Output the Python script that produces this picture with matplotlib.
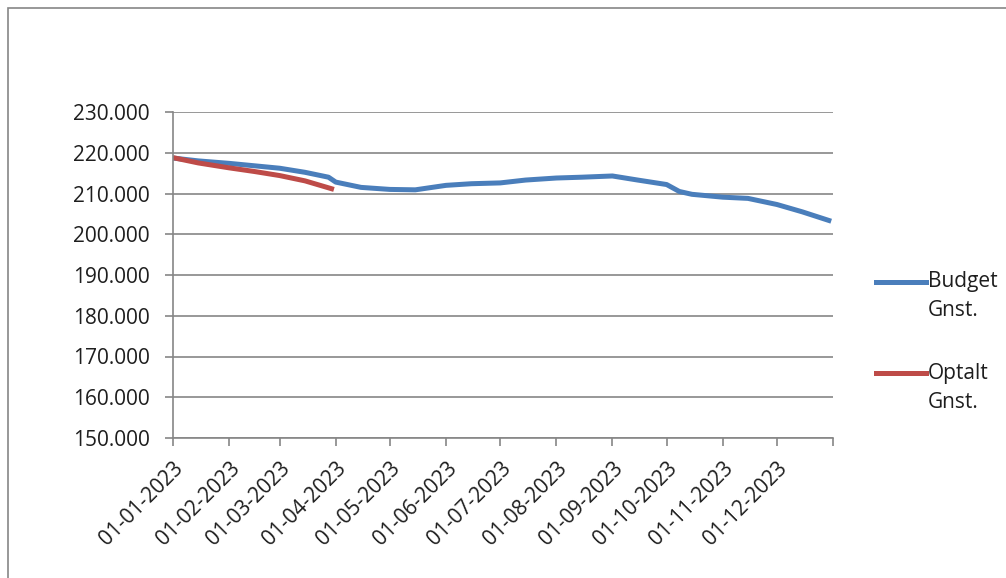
import matplotlib
matplotlib.use("Agg")
import matplotlib.pyplot as plt
from matplotlib.patches import Rectangle
from matplotlib.lines import Line2D
import numpy as np

plt.rcParams['font.family'] = ['Open Sans', 'DejaVu Sans']

# Budget Gnst. (thousands)
budget_dates = ['2023-01-01', '2023-01-15', '2023-02-01', '2023-02-15', '2023-03-01',
                '2023-03-15', '2023-03-28', '2023-04-01', '2023-04-15', '2023-05-01',
                '2023-05-15', '2023-06-01', '2023-06-15', '2023-07-01', '2023-07-15',
                '2023-08-01', '2023-08-15', '2023-09-01', '2023-09-15', '2023-10-01',
                '2023-10-08', '2023-10-15', '2023-11-01', '2023-11-15', '2023-12-01',
                '2023-12-15', '2023-12-31']
budget_values = [218.7, 218.0, 217.4, 216.8, 216.2,
                 215.2, 214.0, 212.8, 211.5, 211.0,
                 210.9, 212.0, 212.4, 212.6, 213.3,
                 213.8, 214.0, 214.3, 213.3, 212.2,
                 210.5, 209.8, 209.1, 208.8, 207.3,
                 205.5, 203.2]

# Optalt Gnst.
optalt_dates = ['2023-01-01', '2023-01-15', '2023-02-01', '2023-02-15',
                '2023-03-01', '2023-03-15', '2023-03-31']
optalt_values = [218.8, 217.5, 216.3, 215.4, 214.4, 213.1, 211.0]

y_ticks = [150, 160, 170, 180, 190, 200, 210, 220, 230]
month_ticks = ['2023-%02d-01' % m for m in range(1, 13)]

series_names = [('Budget', 'Gnst.'), ('Optalt', 'Gnst.')]
series_colors = ['#4a7ebb', '#be4b48']

W, H = 1006, 578
fig = plt.figure(figsize=(W / 100, H / 100), dpi=100)
ax = fig.add_axes([173 / W, 1 - 438 / H, 660 / W, 326 / H])

ax.plot(np.array(budget_dates, dtype='datetime64[D]'), budget_values,
        color=series_colors[0], lw=3.6, solid_capstyle='butt')
ax.plot(np.array(optalt_dates, dtype='datetime64[D]'), optalt_values,
        color=series_colors[1], lw=3.6, solid_capstyle='butt')

ax.set_ylim(150, 230)
ax.set_yticks(y_ticks)
ax.set_yticklabels(['%d.000' % v for v in y_ticks])
ax.set_xlim(np.datetime64('2023-01-01'), np.datetime64('2024-01-01'))
xt = list(np.array(month_ticks, dtype='datetime64[D]')) + [np.datetime64('2024-01-01')]
ax.set_xticks(xt)
ax.set_xticklabels([d[8:10] + '-' + d[5:7] + '-' + d[0:4] for d in month_ticks] + [''],
                   rotation=45, ha='right', rotation_mode='anchor')

ax.grid(axis='y', color='#868686', lw=1.2)
ax.set_axisbelow(True)
for s in ['top', 'right']:
    ax.spines[s].set_visible(False)
for s in ['left', 'bottom']:
    ax.spines[s].set_color('#868686')
    ax.spines[s].set_linewidth(1.2)
ax.tick_params(axis='both', color='#868686', width=1.2, length=5.5, labelsize=15,
               labelcolor='#1e1e1e')
ax.tick_params(axis='y', pad=11)
ax.tick_params(axis='x', pad=9)

# legend drawn by hand: line next to the first text line
for (first, second), col, ly in zip(series_names, series_colors, [282, 373]):
    fig.add_artist(Line2D([876 / W, 926 / W], [1 - ly / H, 1 - ly / H],
                          color=col, lw=3.6, transform=fig.transFigure))
    fig.text(928 / W, 1 - ly / H, first, va='center', ha='left', fontsize=15,
             color='#1e1e1e')
    fig.text(928 / W, 1 - (ly + 29) / H, second, va='center', ha='left', fontsize=15,
             color='#1e1e1e')

# outer chart border (only top and left visible in the crop)
fig.patches.append(Rectangle((8 / W, -0.1), 1.1, 1 - 8 / H + 0.1,
                             transform=fig.transFigure, fill=False,
                             edgecolor='#868686', lw=1.2))

fig.savefig('out.png', dpi=100)
